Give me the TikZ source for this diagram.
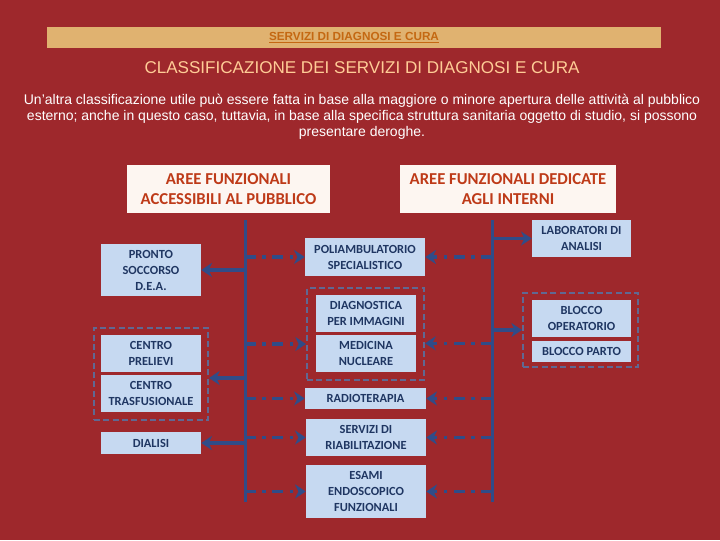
\documentclass[tikz,border=0pt]{standalone}
\usepackage{fontspec}
\setmainfont{Carlito}
\newfontfamily\tahoma{Liberation Sans}
\usetikzlibrary{arrows.meta}
\definecolor{sfondo}{RGB}{158,40,44}
\definecolor{banda}{RGB}{224,178,112}
\definecolor{bandatesto}{RGB}{196,104,18}
\definecolor{titolo}{RGB}{255,204,150}
\definecolor{intestaz}{RGB}{253,246,241}
\definecolor{intestaztesto}{RGB}{190,58,24}
\definecolor{azzurro}{RGB}{198,217,241}
\definecolor{blunotte}{RGB}{31,54,98}
\definecolor{freccia}{RGB}{48,76,136}
\definecolor{gruppo}{RGB}{96,104,146}

\begin{document}
\begin{tikzpicture}[x=0.75pt,y=-0.75pt,
	box/.style={fill=azzurro,text=blunotte,font=\bfseries\fontsize{9.3}{12}\selectfont,align=center,inner sep=0pt},
	intest/.style={fill=intestaz,text=intestaztesto,font=\bfseries\fontsize{12.5}{15}\selectfont,align=center,inner sep=0pt,minimum height=36pt},
	gruppobox/.style={draw=gruppo,line width=1.5pt,dash pattern=on 4.5pt off 2.5pt,inner sep=0pt},
	pieno/.style={draw=freccia,line width=2.6pt,-{Stealth[length=8pt,width=10.5pt,inset=2.5pt]}},
	tratteggio/.style={pieno,dash pattern=on 8pt off 5pt on 2.5pt off 5pt}]
	\fill[sfondo] (0,0) rectangle (720,540);
	\useasboundingbox (0,0) rectangle (720,540);
	\node[fill=banda,minimum width=460.5pt,minimum height=15.75pt,inner sep=0pt,text=bandatesto,font=\tahoma\bfseries\fontsize{8.8}{10}\selectfont] (banda) at (354,37.5) {\underline{SERVIZI DI DIAGNOSI E CURA}};
	\node[text=titolo,font=\tahoma\fontsize{12.8}{14}\selectfont] (titolo) at (362,68) {CLASSIFICAZIONE DEI SERVIZI DI DIAGNOSI E CURA};
	\node[text=white,font=\tahoma\fontsize{10.5}{12}\selectfont,align=center] (testo) at (362,117) {Un’altra classificazione utile può essere fatta in base alla maggiore o minore apertura delle attività al pubblico\\esterno; anche in questo caso, tuttavia, in base alla specifica struttura sanitaria oggetto di studio, si possono\\presentare deroghe.};

	\node[intest,minimum width=152.25pt] (pubblico) at (228.5,189) {AREE FUNZIONALI\\ACCESSIBILI AL PUBBLICO};
	\node[intest,minimum width=162pt] (interni) at (508,189) {AREE FUNZIONALI DEDICATE\\AGLI INTERNI};

	\node[gruppobox,minimum width=85.5pt,minimum height=69pt] (grpL) at (151,374) {};
	\node[gruppobox,minimum width=87.75pt,minimum height=69pt] (grpM) at (365.5,334) {};
	\node[gruppobox,minimum width=86.25pt,minimum height=55.5pt] (grpR) at (580.5,330) {};

	\node[box,minimum width=75pt,minimum height=39pt] (pronto) at (151,270) {PRONTO\\SOCCORSO\\D.E.A.};
	\node[box,minimum width=75pt,minimum height=27.75pt] (prelievi) at (151,353.5) {CENTRO\\PRELIEVI};
	\node[box,minimum width=75pt,minimum height=27.75pt] (trasf) at (151,393.5) {CENTRO\\TRASFUSIONALE};
	\node[box,minimum width=75pt,minimum height=16.5pt] (dialisi) at (151,443) {DIALISI};

	\node[box,minimum width=90pt,minimum height=28.5pt] (poli) at (365,257) {POLIAMBULATORIO\\SPECIALISTICO};
	\node[box,minimum width=75pt,minimum height=27.75pt] (diagn) at (366,313.5) {DIAGNOSTICA\\PER IMMAGINI};
	\node[box,minimum width=75pt,minimum height=27.75pt] (medic) at (366,353.5) {MEDICINA\\NUCLEARE};
	\node[box,minimum width=90.75pt,minimum height=15.75pt] (radio) at (365.5,398.5) {RADIOTERAPIA};
	\node[box,minimum width=90pt,minimum height=27.75pt] (serv) at (366,437.5) {SERVIZI DI\\RIABILITAZIONE};
	\node[box,minimum width=90pt,minimum height=39.75pt] (esami) at (366,491.5) {ESAMI\\ENDOSCOPICO\\FUNZIONALI};

	\node[box,minimum width=74.25pt,minimum height=27.75pt] (lab) at (581.5,238.5) {LABORATORI DI\\ANALISI};
	\node[box,minimum width=74.25pt,minimum height=27.75pt] (bop) at (581.5,318.5) {BLOCCO\\OPERATORIO};
	\node[box,minimum width=74.25pt,minimum height=15.75pt] (bparto) at (581.5,351.5) {BLOCCO PARTO};

	\coordinate (spL) at (245,220);
	\coordinate (spLfine) at (245,502);
	\coordinate (spR) at (492,220);
	\coordinate (spRfine) at (492,502);
	\coordinate (ingrL) at ([yshift=-3pt]grpL.east);
	\coordinate (ingrMs) at ([yshift=-7.5pt]grpM.west);
	\coordinate (ingrMd) at ([yshift=-7pt]grpM.east);
	\draw[freccia,line width=2.25pt] (spL) -- (spLfine);
	\draw[freccia,line width=2.25pt] (spR) -- (spRfine);

	\foreach \t in {pronto,dialisi,ingrL}
	{
		\draw[pieno] (spL |- \t) -- (\t.east);
	}
	\draw[pieno] (spR |- lab.west) -- (lab.west);
	\draw[pieno] (spR |- grpR.west) -- (grpR.west);

	\foreach \t in {poli,radio,serv,esami}
	{
		\draw[tratteggio] (spL |- \t.west) -- (\t.west);
		\draw[tratteggio] (spR |- \t.east) -- (\t.east);
	}
	\draw[tratteggio] (spL |- ingrMs) -- (ingrMs);
	\draw[tratteggio] (spR |- ingrMd) -- (ingrMd);
\end{tikzpicture}
\end{document}
